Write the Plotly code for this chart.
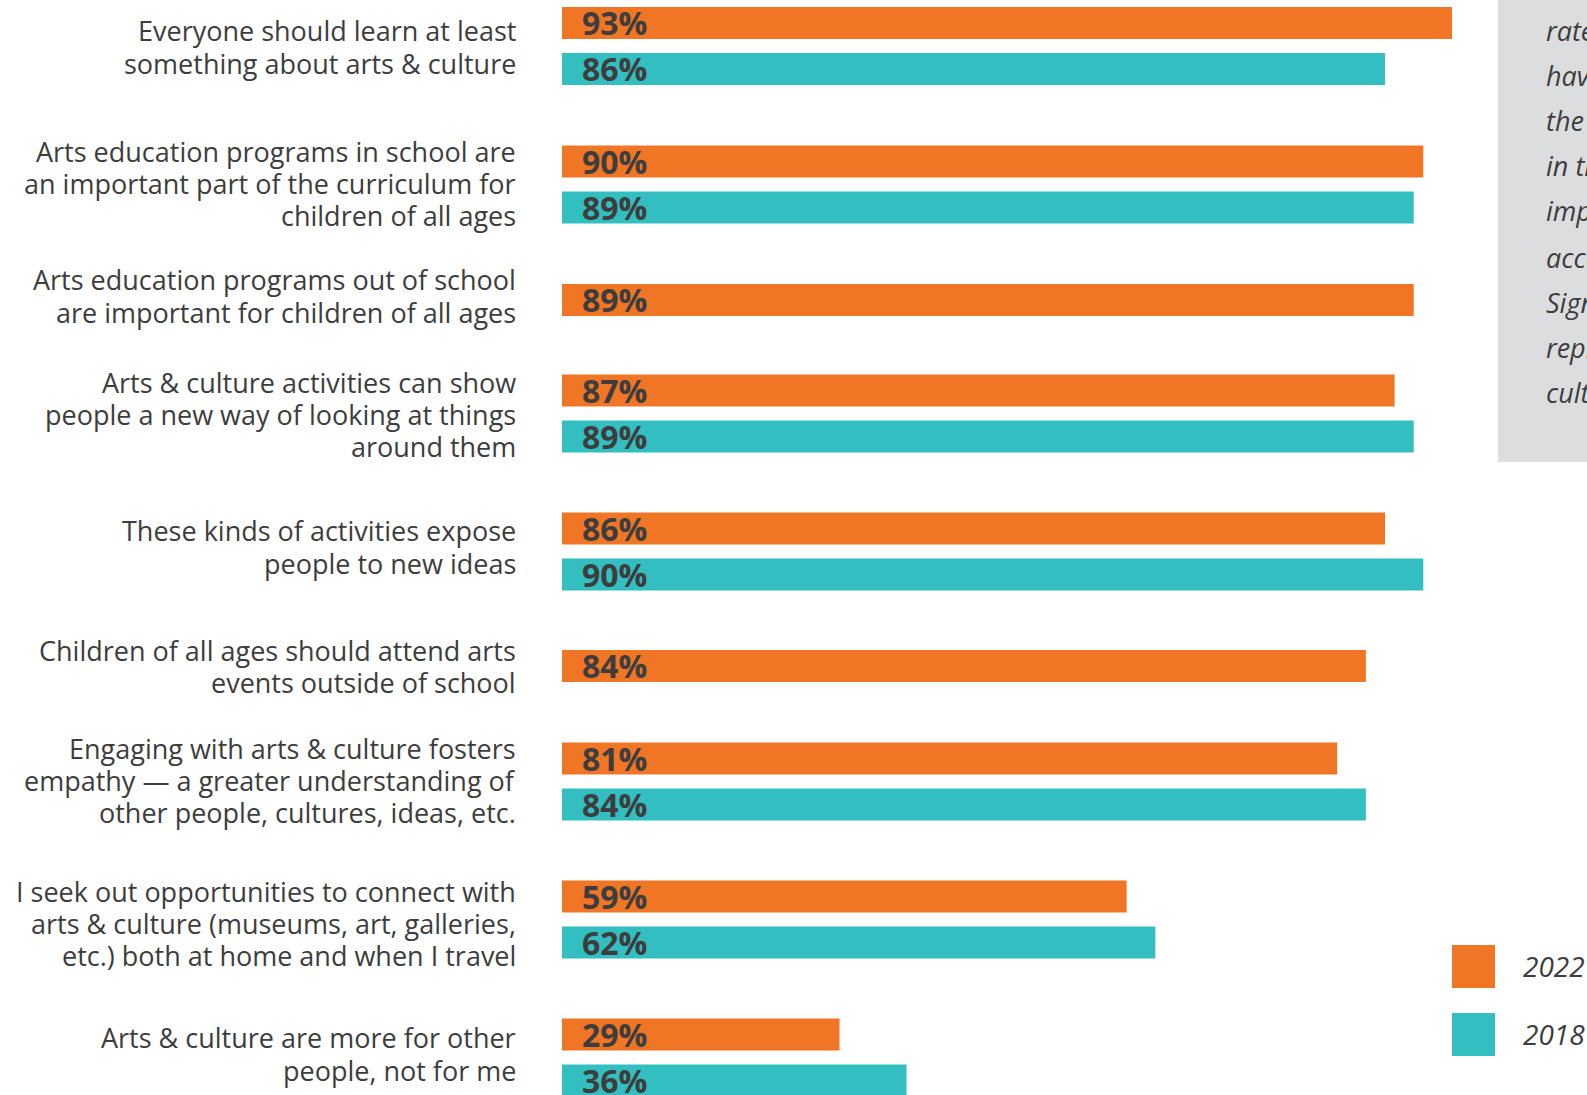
import plotly.graph_objects as go

# ---- data ----
categories = [
    "Everyone should learn at least<br>something about arts & culture",
    "Arts education programs in school are<br>an important part of the curriculum for<br>children of all ages",
    "Arts education programs out of school<br>are important for children of all ages",
    "Arts & culture activities can show<br>people a new way of looking at things<br>around them",
    "These kinds of activities expose<br>people to new ideas",
    "Children of all ages should attend arts<br>events outside of school",
    "Engaging with arts & culture fosters<br>empathy \u2014 a greater understanding of<br>other people, cultures, ideas, etc.",
    "I seek out opportunities to connect with<br>arts & culture (museums, art, galleries,<br>etc.) both at home and when I travel",
    "Arts & culture are more for other<br>people, not for me",
]
pct_2022 = [93, 90, 89, 87, 86, 84, 81, 59, 29]
pct_2018 = [86, 89, None, 89, 90, None, 84, 62, 36]
series_names = ["2022", "2018"]
side_note_lines = ["rated", "have", "the", "in the", "important", "access",
                   "Significant", "represent", "culture"]

# ---- layout constants (pixels) ----
W, H = 1587, 1095
group_centers = [46, 184.5, 300, 413.5, 551.5, 666, 781.5, 919.5, 1057.5]
label_centers = [47, 183.5, 296, 414.5, 547, 666.5, 780.5, 923.5, 1054]
pair_offset = 23
bar_h = 32
x0_px, x100_px = 562, 1519
label_right_px = 518
line_gap = 32.3

ORANGE = "#F07625"
TEAL = "#33BFC1"
INK = "#3d3d3d"
PANEL = "#dcdddf"
FONT = "Open Sans"

y22, y18, x18 = [], [], []
for c, v22, v18 in zip(group_centers, pct_2022, pct_2018):
    if v18 is None:
        y22.append(c)
    else:
        y22.append(c - pair_offset)
        y18.append(c + pair_offset)
        x18.append(v18)

fig = go.Figure()
fig.add_trace(go.Bar(x=pct_2022, y=y22, orientation="h", width=bar_h,
                     marker=dict(color=ORANGE, line=dict(width=0)),
                     name=series_names[0], hoverinfo="skip"))
fig.add_trace(go.Bar(x=x18, y=y18, orientation="h", width=bar_h,
                     marker=dict(color=TEAL, line=dict(width=0)),
                     name=series_names[1], hoverinfo="skip"))

annotations = []
# value labels inside bars
for xs, ys in ((pct_2022, y22), (x18, y18)):
    for v, y in zip(xs, ys):
        annotations.append(dict(
            x=0, y=y - 0.5, xref="x", yref="y", xshift=18,
            text=f"<b>{v}%</b>", showarrow=False,
            xanchor="left", yanchor="middle",
            font=dict(family=FONT, size=32, color=INK)))

# category labels, one annotation per line
for text, c in zip(categories, label_centers):
    lines = text.split("<br>")
    n = len(lines)
    for j, ln in enumerate(lines):
        annotations.append(dict(
            x=label_right_px / W, y=c + (j - (n - 1) / 2) * line_gap,
            xref="paper", yref="y", text=ln, showarrow=False,
            xanchor="right", yanchor="middle",
            font=dict(family=FONT, size=27, color=INK)))

# side note text in the grey panel
note_y = [30, 75, 120, 165, 210, 257, 302, 347, 392]
for ln, y in zip(side_note_lines, note_y):
    annotations.append(dict(
        x=1544 / W, y=y, xref="paper", yref="y", text=ln, showarrow=False,
        xanchor="left", yanchor="middle",
        font=dict(family=FONT, size=27, color=INK, style="italic")))

# legend entries
legend_rows = [(ORANGE, 966.5), (TEAL, 1034.5)]
shapes = [dict(type="rect", xref="paper", yref="y",
               x0=1498 / W, x1=1.05, y0=0, y1=462,
               fillcolor=PANEL, line=dict(width=0), layer="below")]
for (col, yc), name in zip(legend_rows, series_names):
    shapes.append(dict(type="rect", xref="paper", yref="y",
                       x0=1452 / W, x1=1495 / W, y0=yc - 21.5, y1=yc + 21.5,
                       fillcolor=col, line=dict(width=0)))
    annotations.append(dict(
        x=1521 / W, y=yc - 1, xref="paper", yref="y", text=name, showarrow=False,
        xanchor="left", yanchor="middle",
        font=dict(family=FONT, size=28, color=INK, style="italic")))

fig.update_layout(
    width=W, height=H,
    margin=dict(l=0, r=0, t=0, b=0),
    paper_bgcolor="white", plot_bgcolor="white",
    showlegend=False, barmode="overlay",
    xaxis=dict(domain=[x0_px / W, x100_px / W], range=[0, 100],
               visible=False, fixedrange=True),
    yaxis=dict(range=[H, 0], visible=False, fixedrange=True),
    shapes=shapes, annotations=annotations,
)

fig.write_html("out.html")
